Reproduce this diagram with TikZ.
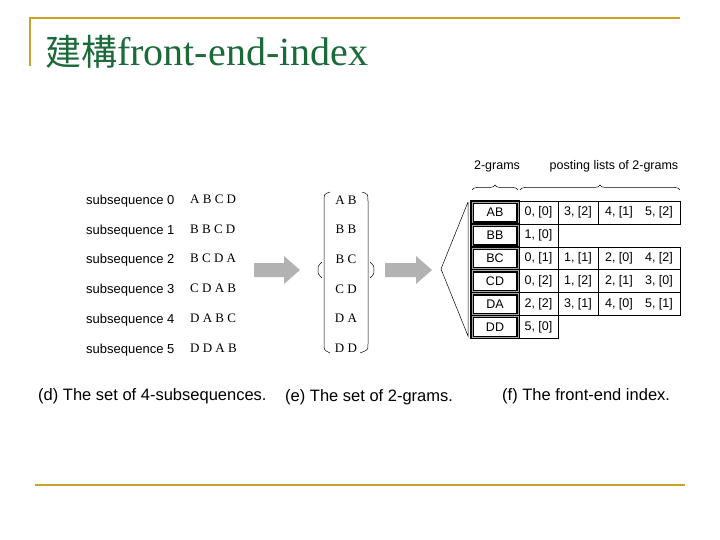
\documentclass[tikz,border=0pt]{standalone}
\usepackage{fontspec}
\setmainfont{Liberation Serif}
\setsansfont{Liberation Sans}
\newfontfamily\cjk{Noto Sans CJK TC}
\usetikzlibrary{decorations.pathreplacing}
\definecolor{gold}{HTML}{C9A227}
\definecolor{ttl}{HTML}{1A6A3A}
\tikzset{
  lab/.style={font=\sffamily\fontsize{13}{13}\selectfont, anchor=west, inner sep=0},
  seq/.style={font=\rmfamily\fontsize{13}{13}\selectfont, anchor=west, inner sep=0},
  captxt/.style={font=\sffamily\fontsize{16.5}{16.5}\selectfont, anchor=west, inner sep=0},
  cell/.style={draw, line width=0.6pt},
  gram/.style={draw=black, line width=1.6pt, fill=white, double=gray!70, double distance=0.6pt},
  txt/.style={font=\sffamily\fontsize{12.5}{12.5}\selectfont, inner sep=0},
  barrow/.style={fill=gray!60, draw=none},
  brc/.style={decorate, decoration={brace, amplitude=5pt}, line width=0.5pt}
}
\begin{document}
\begin{tikzpicture}[x=1pt,y=-1pt]
\useasboundingbox (0,0) rectangle (720,540);
\draw[gold, line width=2.5pt] (30,66) -- (30,18) -- (680,18);
\draw[gold, line width=1.2pt] (35,485) -- (685,485);
\node[anchor=base west, inner sep=0, text=ttl] (title) at (45,66) {\cjk\fontsize{36}{36}\selectfont 建構\rmfamily\fontsize{40}{40}\selectfont front-end-index};
% left column
\foreach \i/\s in {0/A B C D,1/B B C D,2/B C D A,3/C D A B,4/D A B C,5/D D A B}{
  \node[lab] (l\i) at (86,{201+29.8*\i}) {subsequence \i};
  \node[seq] (s\i) at (190,{199+29.8*\i}) {\s};
}
\fill[barrow] (254,263) -- (284,263) -- (284,256) -- (300,270) -- (284,284) -- (284,277) -- (254,277) -- cycle;
\fill[barrow] (385,263) -- (416,263) -- (416,256) -- (432,270) -- (416,284) -- (416,277) -- (385,277) -- cycle;
% middle
\foreach \i/\s in {0/A B,1/B B,2/B C,3/C D,4/D A,5/D D}{
  \node[seq, anchor=center] (m\i) at (346,{200+29.6*\i}) {\s};
}
\draw[line width=0.5pt] (330,192) .. controls (324,194) .. (324,202) -- (324,344) .. controls (324,350) .. (330,353);
\draw[line width=0.5pt] (362,192) .. controls (368,194) .. (368,202) -- (368,344) .. controls (368,350) .. (360,353);
\draw[line width=0.5pt] (322,262) .. controls (318,266) .. (318,270) .. controls (318,274) .. (322,278);
\draw[line width=0.5pt] (370,262) .. controls (374,266) .. (374,270) .. controls (374,274) .. (370,278);
% right
\coordinate (tt) at (468,202); \coordinate (ap) at (441,269); \coordinate (tb) at (468,336);
\draw[line width=0.5pt] (tt) -- (ap) -- (tb) -- (tt);
\def\rh{22.9}
\foreach \i/\g in {0/AB,1/BB,2/BC,3/CD,4/DA,5/DD}{
  \draw[gram] (472,{201+\rh*\i+1}) rectangle (518,{201+\rh*(\i+1)-1});
  \node[txt] (g\i) at (495,{201+\rh*(\i+0.5)}) {\g};
}
\foreach \i/\a/\b/\c/\d in {0/{0, [0]}/{3, [2]}/{4, [1]}/{5, [2]},2/{0, [1]}/{1, [1]}/{2, [0]}/{4, [2]},3/{0, [2]}/{1, [2]}/{2, [1]}/{3, [0]},4/{2, [2]}/{3, [1]}/{4, [0]}/{5, [1]}}{
  \draw[cell] (519,{201+\rh*\i}) rectangle (558,{201+\rh*(\i+1)});
  \draw[cell] (558,{201+\rh*\i}) rectangle (598,{201+\rh*(\i+1)});
  \draw[cell] (598,{201+\rh*\i}) rectangle (680,{201+\rh*(\i+1)});
  \node[txt] (p\i a) at (538.5,{201+\rh*(\i+0.5)}) {\a};
  \node[txt] (p\i b) at (578,{201+\rh*(\i+0.5)}) {\b};
  \node[txt] (p\i c) at (619,{201+\rh*(\i+0.5)}) {\c};
  \node[txt] (p\i d) at (659,{201+\rh*(\i+0.5)}) {\d};
}
\foreach \i/\a in {1/{1, [0]},5/{5, [0]}}{
  \draw[cell] (519,{201+\rh*\i}) rectangle (558,{201+\rh*(\i+1)});
  \node[txt] (p\i a) at (538.5,{201+\rh*(\i+0.5)}) {\a};
}
\draw[brc] (472,190) -- (518,190);
\draw[brc] (520,190) -- (680,190);
\node[txt] (h1) at (497,166) {2-grams};
\node[txt] (h2) at (614,166) {posting lists of 2-grams};
% captions
\node[captxt] (c1) at (38,396) {(d) The set of 4-subsequences.};
\node[captxt] (c2) at (285,397) {(e) The set of 2-grams.};
\node[captxt] (c3) at (502,396) {(f) The front-end index.};
\end{tikzpicture}
\end{document}
